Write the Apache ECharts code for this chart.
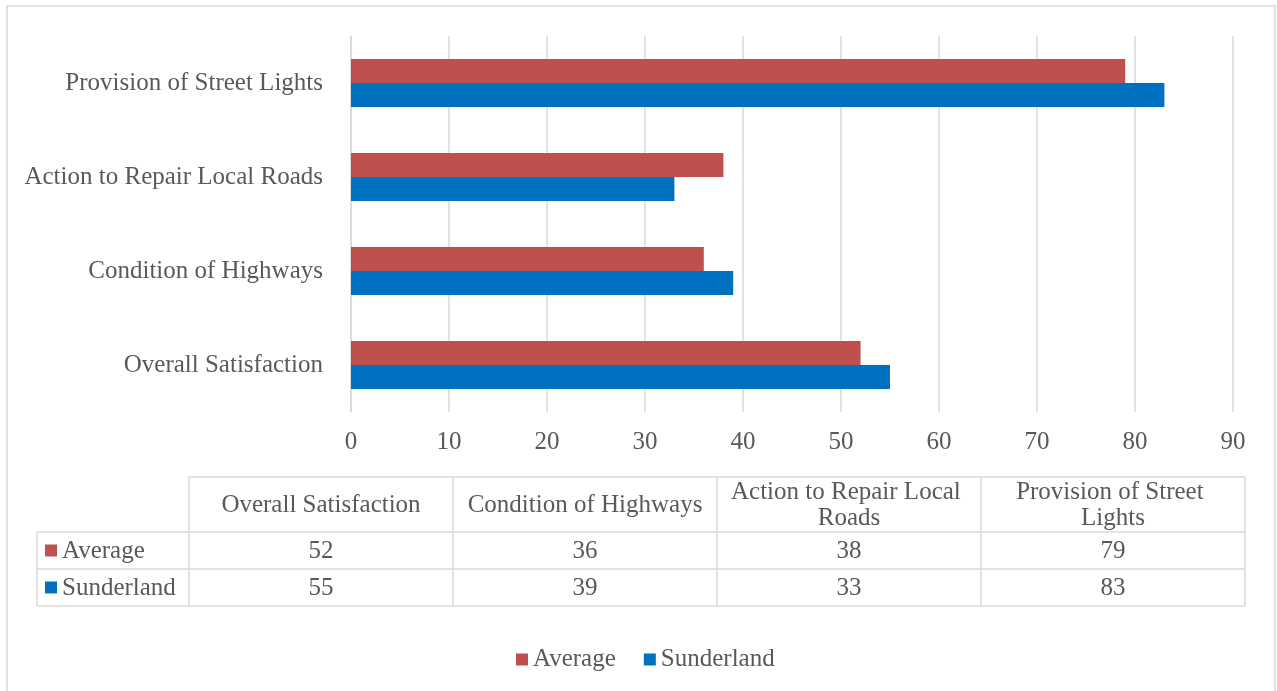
<!DOCTYPE html>
<html>
<head>
<meta charset="utf-8">
<script src="https://cdn.jsdelivr.net/npm/echarts@6/dist/echarts.min.js"></script>
<style>
  html, body { margin: 0; padding: 0; background: #fff; }
  #main { width: 1277px; height: 691px; }
</style>
</head>
<body>
<div id="main"></div>
<script>
// data
var categories = ["Overall Satisfaction", "Condition of Highways", "Action to Repair Local Roads", "Provision of Street Lights"];
var seriesNames = ["Average", "Sunderland"];
var averageValues = [52, 36, 38, 79];
var sunderlandValues = [55, 39, 33, 83];
var colors = { Average: "#c0504d", Sunderland: "#0070c0" };

var FONT = "Liberation Serif";
var TEXT = "#595959";
var LINE = "#d9d9d9";
var FS = 25;

// data table under the chart
var tbl = { left: 37, colStart: 189, colW: 264, top: 477, headH: 55, rowH: 37 };
var rowsData = [
  { name: "Average", values: averageValues },
  { name: "Sunderland", values: sunderlandValues }
];

function tableGraphics() {
  var g = [];
  var right = tbl.colStart + tbl.colW * categories.length;
  var yHead = tbl.top + tbl.headH;
  var bottom = yHead + tbl.rowH * rowsData.length;
  function line(x1, y1, x2, y2) {
    g.push({ type: "line", shape: { x1: x1, y1: y1, x2: x2, y2: y2 }, style: { stroke: LINE, lineWidth: 1.5 } });
  }
  line(tbl.colStart, tbl.top, right, tbl.top);
  for (var r = 0; r <= rowsData.length; r++) {
    line(tbl.left, yHead + r * tbl.rowH, right, yHead + r * tbl.rowH);
  }
  line(tbl.left, yHead, tbl.left, bottom);
  for (var c = 0; c <= categories.length; c++) {
    line(tbl.colStart + c * tbl.colW, tbl.top, tbl.colStart + c * tbl.colW, bottom);
  }
  categories.forEach(function (cat, i) {
    g.push({
      type: "text",
      x: tbl.colStart + tbl.colW * (i + 0.5),
      y: tbl.top + tbl.headH / 2 + 1,
      style: {
        text: cat, width: 242, overflow: "break", lineHeight: 26,
        fontFamily: FONT, fontSize: FS, fill: TEXT,
        align: "center", verticalAlign: "middle"
      }
    });
  });
  rowsData.forEach(function (row, r) {
    var cy = yHead + tbl.rowH * (r + 0.5);
    g.push({ type: "rect", shape: { x: tbl.left + 8, y: cy - 6, width: 12, height: 12 }, style: { fill: colors[row.name] } });
    g.push({
      type: "text", x: tbl.left + 25, y: cy + 1,
      style: { text: row.name, fontFamily: FONT, fontSize: FS, fill: TEXT, align: "left", verticalAlign: "middle" }
    });
    row.values.forEach(function (v, i) {
      g.push({
        type: "text", x: tbl.colStart + tbl.colW * (i + 0.5), y: cy + 1,
        style: { text: String(v), fontFamily: FONT, fontSize: FS, fill: TEXT, align: "center", verticalAlign: "middle" }
      });
    });
  });
  // outer chart border
  g.push({ type: "rect", shape: { x: 7, y: 6, width: 1268, height: 700 }, style: { fill: "none", stroke: LINE, lineWidth: 1.5 }, z: -1 });
  return g;
}

var chart = echarts.init(document.getElementById("main"));
var option = {
  animation: false,
  textStyle: { fontFamily: FONT },
  grid: { left: 351, right: 44, top: 36, bottom: 279, containLabel: false },
  legend: {
    data: seriesNames,
    top: 642,
    left: 511,
    padding: 5,
    icon: "rect",
    itemWidth: 12,
    itemHeight: 12,
    itemGap: 28,
    textStyle: { fontFamily: FONT, fontSize: FS, color: TEXT }
  },
  xAxis: {
    type: "value",
    min: 0,
    max: 90,
    interval: 10,
    axisLine: { show: false },
    axisTick: { show: false },
    splitLine: { lineStyle: { color: LINE, width: 1.5 } },
    axisLabel: { fontFamily: FONT, fontSize: FS, color: TEXT, margin: 18 }
  },
  yAxis: {
    type: "category",
    data: categories,
    axisLine: { lineStyle: { color: LINE, width: 1.5 } },
    axisTick: { show: false },
    axisLabel: { fontFamily: FONT, fontSize: FS, color: TEXT, margin: 28 }
  },
  series: [
    {
      name: "Average", type: "bar", data: averageValues,
      itemStyle: { color: colors.Average }, barWidth: 24, barGap: "0%"
    },
    {
      name: "Sunderland", type: "bar", data: sunderlandValues,
      itemStyle: { color: colors.Sunderland }, barWidth: 24, barGap: "0%"
    }
  ],
  graphic: tableGraphics()
};
chart.setOption(option);
</script>
</body>
</html>
